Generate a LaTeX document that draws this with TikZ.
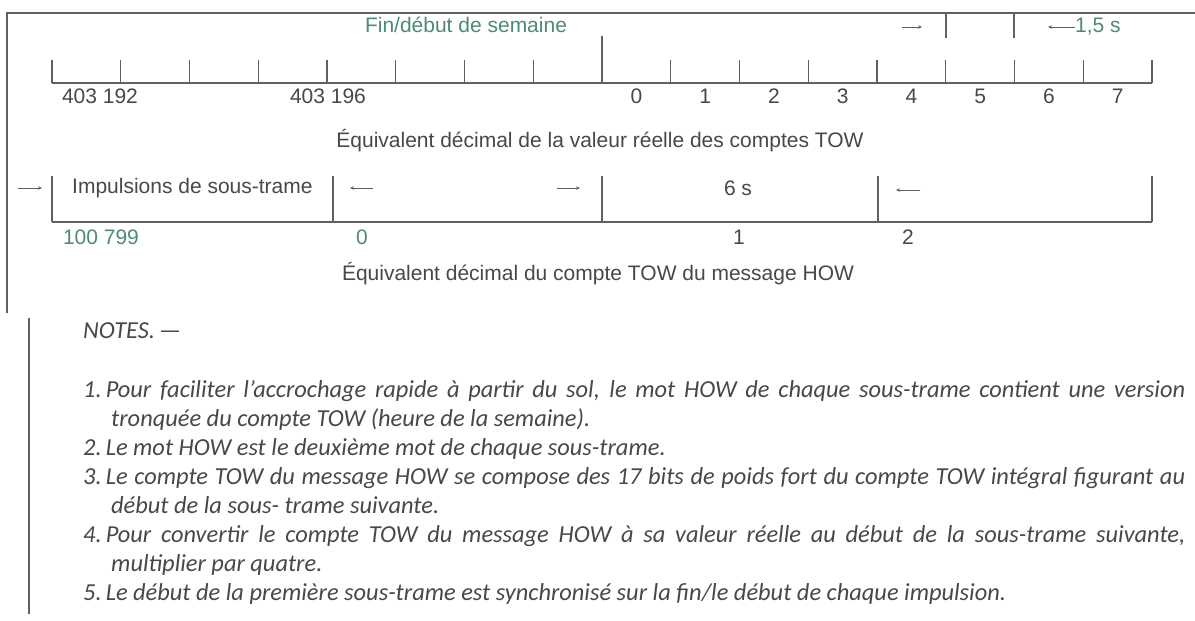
\documentclass[tikz,border=0pt]{standalone}
\usepackage{fontspec}
\setmainfont{Liberation Sans}
\newfontfamily\notefont{Carlito}
\usetikzlibrary{arrows.meta, positioning}
\definecolor{scalegreen}{RGB}{78,138,118}
\definecolor{textgray}{RGB}{72,72,72}
\definecolor{linegray}{RGB}{96,96,96}
\newcommand{\fullline}[1]{\makebox[1102pt][s]{#1}}

\begin{document}
\begin{tikzpicture}[x=1pt, y=-1pt,
    axis/.style={draw=linegray, line width=1.1pt},
    tickmark/.style={draw=linegray, line width=1.1pt},
    lbl/.style={font=\fontsize{21}{24}\selectfont, text=textgray, inner sep=0pt},
    glbl/.style={lbl, text=scalegreen},
    arr/.style={draw=linegray, line width=0.8pt, -{Stealth[length=4pt, width=3.5pt]}},
    notetext/.style={font=\notefont\itshape\fontsize{24.4}{29}\selectfont, text=textgray,
                     inner sep=0pt, anchor=base west}
  ]
  \fill[white] (0,0) rectangle (1195,621);
  \useasboundingbox (0,0) rectangle (1195,621);

  % frame
  \draw[axis] (1195,13) -- (7,13) -- (7,313);
  \draw[axis] (29,318) -- (29,614);

  % upper scale: real TOW counts
  \draw[axis] (52,83) -- (1152,83);
  \foreach \i in {0,...,16} {
    \draw[tickmark] ({52+\i*68.75},60) -- ({52+\i*68.75},83);
  }
  \draw[tickmark] (602,36) -- (602,83);
  \draw[tickmark] (946,13) -- (946,38);
  \draw[tickmark] (1014,13) -- (1014,38);

  \node[glbl] (weekend) at (466,25) {Fin/début de semaine};
  \node[lbl] (c192) at (100,96) {403 192};
  \node[lbl] (c196) at (328,96) {403 196};
  \foreach \n in {0,...,7} {
    \node[lbl] (t\n) at ({636.4+\n*68.75},96) {\n};
  }
  \node[glbl, anchor=west] (step15) at (1075,27) {1,5 s};
  \coordinate (s15a) at (902,27);
  \coordinate (s15b) at (922,27);
  \coordinate (s15c) at (1048,27);
  \draw[arr] (s15a) -- (s15b);
  \draw[arr] (step15.west) -- (s15c);

  \node[lbl] (realtow) at (600,141) {Équivalent décimal de la valeur réelle des comptes TOW};

  % lower scale: HOW counts
  \draw[axis] (52,222) -- (1152,222);
  \foreach \x in {52,333,602,878,1152} {
    \draw[tickmark] (\x,176) -- (\x,222);
  }
  \node[lbl, anchor=west] (pulses) at (72,188) {Impulsions de sous-trame};
  \coordinate (pa) at (18,188);
  \coordinate (pb) at (42,188);
  \draw[arr] (pa) -- (pb);
  \coordinate (fa) at (373,188);
  \coordinate (fb) at (350,188);
  \draw[arr] (fa) -- (fb);
  \coordinate (fc) at (557,188);
  \coordinate (fd) at (580,188);
  \draw[arr] (fc) -- (fd);
  \node[lbl] (sixs) at (738,188) {6 s};
  \coordinate (fe) at (920,190);
  \coordinate (ff) at (896,190);
  \draw[arr] (fe) -- (ff);

  \node[glbl] (h799) at (101,237) {100 799};
  \node[glbl] (h0) at (362,237) {0};
  \node[lbl] (h1) at (739,237) {1};
  \node[lbl] (h2) at (908,237) {2};

  \node[lbl] (howtow) at (598,274) {Équivalent décimal du compte TOW du message HOW};

  % notes
  \node[notetext] (notes) at (83,338) {NOTES.\,—};
  \node[notetext] (n1a) at (83,397) {\fullline{1.\,Pour faciliter l’accrochage rapide à partir du sol, le mot HOW de chaque sous-trame contient une version}};
  \node[notetext] (n1b) at (111,426) {tronquée du compte TOW (heure de la semaine).};
  \node[notetext] (n2) at (83,455) {2.\,Le mot HOW est le deuxième mot de chaque sous-trame.};
  \node[notetext] (n3a) at (83,484) {\fullline{3.\,Le compte TOW du message HOW se compose des 17 bits de poids fort du compte TOW intégral figurant au}};
  \node[notetext] (n3b) at (111,513) {début de la sous- trame suivante.};
  \node[notetext] (n4a) at (83,542) {\fullline{4.\,Pour convertir le compte TOW du message HOW à sa valeur réelle au début de la sous-trame suivante,}};
  \node[notetext] (n4b) at (111,571) {multiplier par quatre.};
  \node[notetext] (n5) at (83,600) {5.\,Le début de la première sous-trame est synchronisé sur la fin/le début de chaque impulsion.};
\end{tikzpicture}
\end{document}
